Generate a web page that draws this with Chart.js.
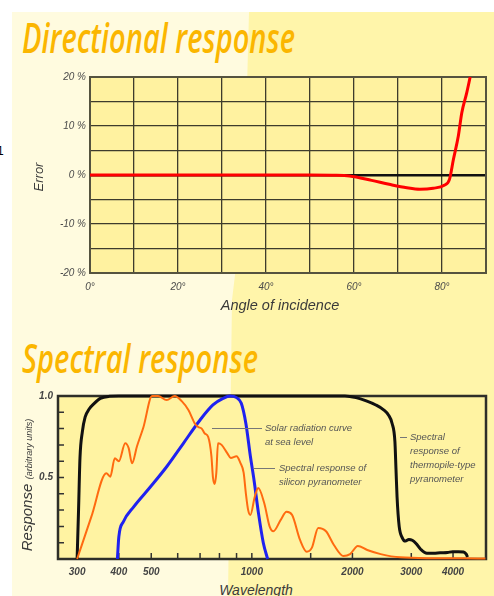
<!DOCTYPE html>
<html>
<head>
<meta charset="utf-8">
<script src="https://cdn.jsdelivr.net/npm/chart.js@4.4.1/dist/chart.umd.min.js"></script>
<style>
  html, body { margin: 0; padding: 0; background: #fff; width: 494px; height: 596px; overflow: hidden; position: relative; font-family: "Liberation Sans", Arial, sans-serif; }
  #panel { position: absolute; left: 12px; top: 12px; right: 0; bottom: 0; background: #fffbdf; }
  #panelRight { position: absolute; left: 0; top: 0; width: 494px; height: 596px; background: #fff5aa;
    clip-path: polygon(249px 12px, 494px 12px, 494px 596px, 228px 596px, 232px 300px, 244px 200px); }
  .title { position: absolute; left: 22px; font-family: "Open Sans", sans-serif; font-style: italic; font-weight: 600;
    color: #fbb600; line-height: 1; white-space: nowrap; transform-origin: 0 0; }
  canvas { position: absolute; left: 0; }
  .axis { position: absolute; font-style: italic; color: #3a3a3a; white-space: nowrap; transform: translate(-50%, -50%); }
  .note { position: absolute; font-style: italic; font-size: 9.5px; color: #555; line-height: 14px; white-space: nowrap; }
  .lead { position: absolute; height: 1px; background: #777; }
  #stray { position: absolute; left: -3px; top: 144px; font-size: 12px; color: #000; }
</style>
</head>
<body>
<div id="panel"></div>
<div id="panelRight"></div>
<div id="stray">1</div>

<div class="title" id="t1" style="top:16px;font-size:42px;" data-w="273">Directional response</div>
<div class="title" id="t2" style="top:338px;font-size:39px;" data-w="236">Spectral response</div>

<canvas id="dirChart" width="494" height="245" style="top:60px"></canvas>
<canvas id="specChart" width="494" height="200" style="top:380px"></canvas>

<div class="axis" style="left:38px;top:177px;font-size:13px;transform:translate(-50%,-50%) rotate(-90deg);">Error</div>
<div class="axis" style="left:280px;top:305px;font-size:14.5px;">Angle of incidence</div>
<div class="axis" style="left:256px;top:590px;font-size:14px;">Wavelength</div>
<div class="axis" style="left:27px;top:485px;transform:translate(-50%,-50%) rotate(-90deg);"><span style="font-size:15px">Response</span> <span style="font-size:9px">(arbitrary units)</span></div>

<div class="lead" style="left:212px;top:428px;width:50px;"></div>
<div class="note" style="left:265px;top:421px;">Solar radiation curve<br>at sea level</div>
<div class="lead" style="left:253px;top:468px;width:22px;"></div>
<div class="note" style="left:279px;top:461px;">Spectral response of<br>silicon pyranometer</div>
<div class="lead" style="left:400px;top:437px;width:7px;"></div>
<div class="note" style="left:410px;top:430px;">Spectral<br>response of<br>thermopile-type<br>pyranometer</div>

<script>
// directional response
const angles = [0, 10, 20, 30, 40, 50, 55, 59, 64, 68, 72, 75, 78, 80.5, 81.7, 82.6, 83.7, 84.5, 85.6, 86.4];
const errors = [0, 0, 0, 0, 0, 0, -0.05, -0.2, -1.1, -1.9, -2.6, -2.9, -2.7, -2.1, -0.9, 3.2, 7.9, 12.7, 16.7, 20];
const angleTickValues = [0, 20, 40, 60, 80];
const angleTickLabels = ["0°", "20°", "40°", "60°", "80°"];
const errorTickValues = [-20, -10, 0, 10, 20];
const errorTickLabels = ["-20 %", "-10 %", "0 %", "10 %", "20 %"];

// spectral response
const solarNm = [300, 331, 367, 377, 389, 400, 418, 428, 438, 453, 474, 503, 524, 556, 588, 616, 646, 676, 691, 708, 723, 740, 757, 765, 774, 783, 792, 812, 844, 865, 900, 924, 945, 960, 975, 990, 1020, 1045, 1090, 1130, 1160, 1220, 1270, 1320, 1394, 1460, 1513, 1580, 1667, 1760, 1880, 1968, 2075, 2215, 2430, 2780, 3500, 4300, 5000];
const solarResp = [0, 0.26, 0.526, 0.505, 0.618, 0.6, 0.71, 0.68, 0.587, 0.69, 0.81, 1.0, 1.0, 0.975, 1.0, 0.97, 0.914, 0.83, 0.81, 0.8, 0.77, 0.75, 0.63, 0.5, 0.46, 0.53, 0.71, 0.7, 0.65, 0.62, 0.63, 0.59, 0.53, 0.4, 0.3, 0.27, 0.38, 0.435, 0.34, 0.2, 0.17, 0.24, 0.29, 0.27, 0.117, 0.045, 0.07, 0.19, 0.17, 0.086, 0.018, 0.03, 0.08, 0.055, 0.03, 0.01, 0.005, 0.004, 0.003];
const siliconNm = [396, 400, 413, 443, 496, 556, 624, 700, 765, 820, 860, 900, 930, 960, 990, 1015, 1047, 1082, 1115];
const siliconResp = [0, 0.137, 0.23, 0.32, 0.44, 0.566, 0.71, 0.853, 0.945, 0.985, 1.0, 0.99, 0.955, 0.83, 0.63, 0.485, 0.28, 0.1, 0];
const thermoNm = [300, 303, 306, 311, 317, 326, 336, 352, 375, 400, 1000, 1900, 2050, 2200, 2350, 2480, 2560, 2630, 2680, 2700, 2720, 2760, 2820, 2880, 2950, 3020, 3100, 3200, 3340, 3500, 3660, 3850, 3990, 4150, 4300, 4380, 4420];
const thermoResp = [0, 0.3, 0.62, 0.78, 0.87, 0.92, 0.95, 0.985, 0.998, 1, 1, 1, 0.99, 0.97, 0.945, 0.915, 0.885, 0.83, 0.72, 0.55, 0.38, 0.2, 0.13, 0.11, 0.12, 0.115, 0.095, 0.06, 0.035, 0.035, 0.038, 0.04, 0.045, 0.045, 0.043, 0.03, 0.012];
const wavelengthTickValues = [300, 400, 500, 1000, 2000, 3000, 4000];
const wavelengthMarks = [300, 400, 500, 600, 700, 800, 900, 1000, 1500, 2000, 3000, 4000];
const responseTickValues = [0.5, 1.0];
const responseMarks = [0.1, 0.2, 0.3, 0.4, 0.5, 0.6, 0.7, 0.8, 0.9];

const tickFont = { family: "'Liberation Sans', Arial, sans-serif", size: 10, style: "italic" };

// plot background
const plotBg = {
  id: "plotBg",
  beforeDraw(chart, args, opts) {
    const { ctx, chartArea: a } = chart;
    ctx.save();
    ctx.fillStyle = opts.color;
    ctx.fillRect(a.left, a.top, a.right - a.left, a.bottom - a.top);
    ctx.restore();
  },
};

// frame + inward tick marks
const frame = {
  id: "frame",
  beforeDatasetsDraw(chart, args, opts) {
    const { ctx, chartArea: a, scales } = chart;
    ctx.save();
    if (opts.marks) {
      ctx.strokeStyle = "#333";
      ctx.lineWidth = 1.5;
      ctx.beginPath();
      wavelengthMarks.forEach((v) => {
        const px = scales.x.getPixelForValue(v);
        ctx.moveTo(px, a.bottom);
        ctx.lineTo(px, a.bottom - 6);
      });
      responseMarks.forEach((v) => {
        const py = scales.y.getPixelForValue(v);
        ctx.moveTo(a.left, py);
        ctx.lineTo(a.left + 6, py);
      });
      ctx.stroke();
    }
    ctx.strokeStyle = opts.color;
    ctx.lineWidth = opts.width;
    ctx.strokeRect(a.left, a.top, a.right - a.left, a.bottom - a.top);
    ctx.restore();
  },
};

// chart 1
new Chart(document.getElementById("dirChart"), {
  type: "line",
  data: {
    datasets: [
      {
        data: angles.map((a, i) => ({ x: a, y: errors[i] })),
        borderColor: "#ff0000",
        borderWidth: 3,
        pointRadius: 0,
        cubicInterpolationMode: "monotone",
        fill: false,
        clip: 4,
      },
    ],
  },
  options: {
    responsive: false,
    animation: false,
    layout: { padding: { top: 17, right: 8, left: 0, bottom: 0 } },
    plugins: {
      legend: { display: false },
      tooltip: { enabled: false },
      plotBg: { color: "#fff2a0" },
      frame: { color: "#55533f", width: 2, marks: false },
    },
    scales: {
      x: {
        type: "linear",
        min: 0,
        max: 90,
        afterFit: (s) => { s.height = 32; },
        ticks: {
          stepSize: 10,
          autoSkip: false,
          maxRotation: 0,
          padding: 8,
          color: "#4a4a4a",
          font: tickFont,
          callback: (v) => {
            const i = angleTickValues.indexOf(v);
            return i >= 0 ? angleTickLabels[i] : "";
          },
        },
        grid: { color: "#3e3c2c", lineWidth: 1.3, drawTicks: false },
        border: { display: false },
      },
      y: {
        min: -20,
        max: 20,
        afterFit: (s) => { s.width = 90; },
        ticks: {
          stepSize: 5,
          autoSkip: false,
          padding: 4,
          color: "#4a4a4a",
          font: tickFont,
          callback: (v) => {
            const i = errorTickValues.indexOf(v);
            return i >= 0 ? errorTickLabels[i] : "";
          },
        },
        grid: {
          color: (c) => (c.tick && c.tick.value === 0 ? "#111" : "#3e3c2c"),
          lineWidth: (c) => (c.tick && c.tick.value === 0 ? 2.5 : 1.3),
          drawTicks: false,
        },
        border: { display: false },
      },
    },
  },
  plugins: [plotBg, frame],
});

// chart 2
const lineStyle = { pointRadius: 0, cubicInterpolationMode: "monotone", fill: false, clip: 4 };
new Chart(document.getElementById("specChart"), {
  type: "line",
  data: {
    datasets: [
      { ...lineStyle, data: solarNm.map((v, i) => ({ x: v, y: solarResp[i] })), borderColor: "#ff6a10", borderWidth: 2 },
      { ...lineStyle, data: siliconNm.map((v, i) => ({ x: v, y: siliconResp[i] })), borderColor: "#1f22f0", borderWidth: 3 },
      { ...lineStyle, data: thermoNm.map((v, i) => ({ x: v, y: thermoResp[i] })), borderColor: "#111", borderWidth: 3 },
    ],
  },
  options: {
    responsive: false,
    animation: false,
    layout: { padding: { top: 16, right: 8, left: 0, bottom: 0 } },
    plugins: {
      legend: { display: false },
      tooltip: { enabled: false },
      plotBg: { color: "#fff3a2" },
      frame: { color: "#2e2e28", width: 2.5, marks: true },
    },
    scales: {
      x: {
        type: "logarithmic",
        min: 263,
        max: 5020,
        afterFit: (s) => { s.height = 21; },
        afterBuildTicks: (s) => { s.ticks = wavelengthTickValues.map((v) => ({ value: v })); },
        ticks: {
          autoSkip: false,
          maxRotation: 0,
          padding: 7,
          color: "#444",
          font: { ...tickFont, weight: "bold" },
          callback: (v) => String(v),
        },
        grid: { display: false, drawTicks: false },
        border: { display: false },
      },
      y: {
        min: 0,
        max: 1,
        afterFit: (s) => { s.width = 58; },
        afterBuildTicks: (s) => { s.ticks = responseTickValues.map((v) => ({ value: v })); },
        ticks: {
          padding: 5,
          color: "#444",
          font: { ...tickFont, weight: "bold" },
          callback: (v) => v.toFixed(1),
        },
        grid: { display: false, drawTicks: false },
        border: { display: false },
      },
    },
  },
  plugins: [plotBg, frame],
});

// squeeze the titles to their width
function fitTitles() {
  document.querySelectorAll(".title").forEach((el) => {
    const w = el.getBoundingClientRect().width / (el._s || 1);
    const s = Number(el.dataset.w) / w;
    el._s = s;
    el.style.transform = "scaleX(" + s + ")";
  });
}
fitTitles();
document.fonts.ready.then(fitTitles);
</script>
</body>
</html>
